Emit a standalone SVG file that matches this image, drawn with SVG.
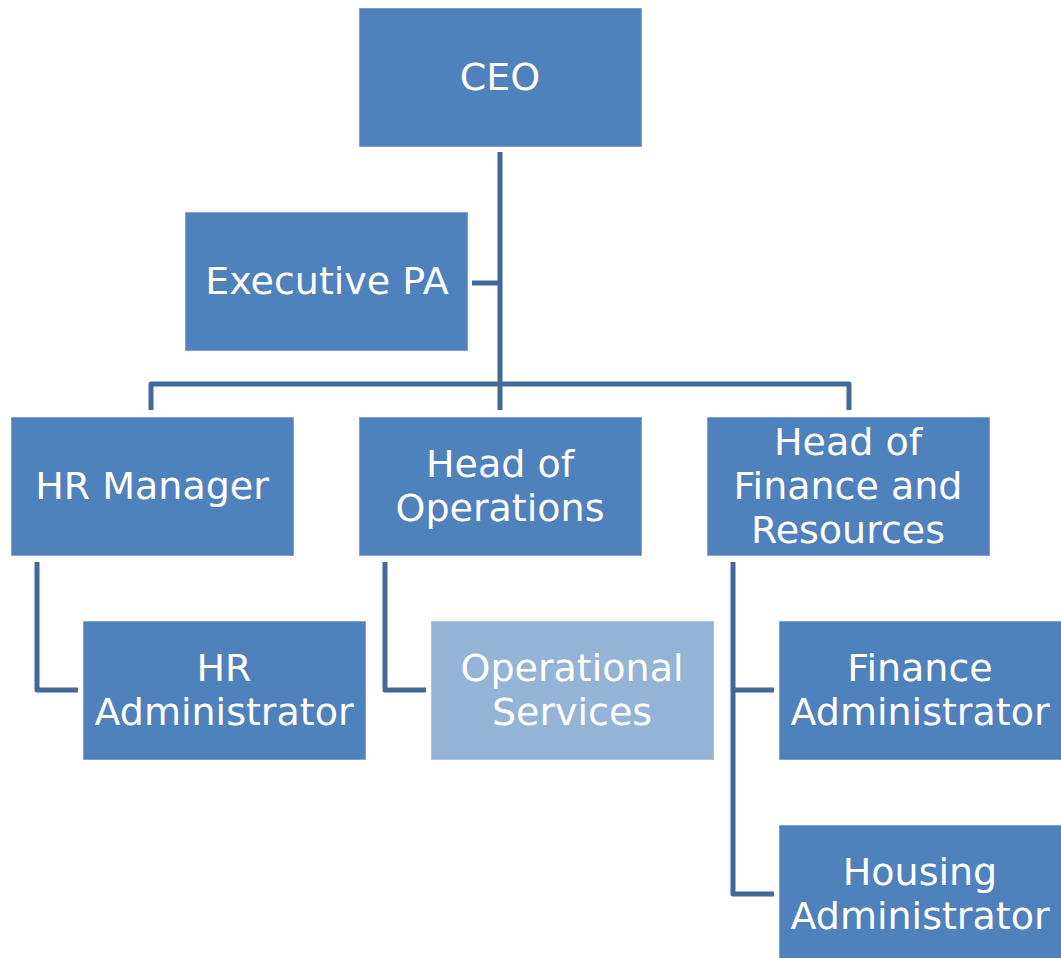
<svg xmlns="http://www.w3.org/2000/svg" width="1061" height="958" viewBox="0 0 1061 958">
<style>
.box{fill:#4f81bd;stroke:#7fa3d1;stroke-width:1}
.light{fill:#95b3d7;stroke:#a9c2e0;stroke-width:1}
.t{font-family:"DejaVu Sans","Liberation Sans",sans-serif;font-size:38px;fill:#ffffff;text-anchor:middle}
.c{fill:none;stroke:#41699c;stroke-width:5;stroke-linejoin:round}
</style>
<rect width="1061" height="958" fill="#ffffff"/>
<g id="connectors">
<path class="c" d="M500 152V410"/>
<path class="c" d="M472 283H500"/>
<path class="c" d="M151 410V384H849V410"/>
<path class="c" d="M37 562V690H78"/>
<path class="c" d="M385 562V690H426"/>
<path class="c" d="M733 562V894H774"/>
<path class="c" d="M733 690H774"/>
</g>
<g id="ceo"><rect class="box" x="359.5" y="8.5" width="282" height="138"/><text class="t" x="500" y="90">CEO</text></g>
<g id="executive-pa"><rect class="box" x="185.5" y="212.5" width="282" height="138"/><text class="t" x="327" y="294">Executive PA</text></g>
<g id="hr-manager"><rect class="box" x="11.5" y="417.5" width="282" height="138"/><text class="t" x="152" y="499">HR Manager</text></g>
<g id="head-of-operations"><rect class="box" x="359.5" y="417.5" width="282" height="138"/><text class="t" x="500" y="477">Head of</text><text class="t" x="500" y="521">Operations</text></g>
<g id="head-of-finance"><rect class="box" x="707.5" y="417.5" width="282" height="138"/><text class="t" x="848" y="455">Head of</text><text class="t" x="848" y="499">Finance and</text><text class="t" x="848" y="543">Resources</text></g>
<g id="hr-administrator"><rect class="box" x="83.5" y="621.5" width="282" height="138"/><text class="t" x="224" y="681">HR</text><text class="t" x="224" y="725">Administrator</text></g>
<g id="operational-services"><rect class="light" x="431.5" y="621.5" width="282" height="138"/><text class="t" x="572" y="681">Operational</text><text class="t" x="572" y="725">Services</text></g>
<g id="finance-administrator"><rect class="box" x="779.5" y="621.5" width="282" height="138"/><text class="t" x="920" y="681">Finance</text><text class="t" x="920" y="725">Administrator</text></g>
<g id="housing-administrator"><rect class="box" x="779.5" y="825.5" width="282" height="138"/><text class="t" x="920" y="885">Housing</text><text class="t" x="920" y="929">Administrator</text></g>
</svg>
